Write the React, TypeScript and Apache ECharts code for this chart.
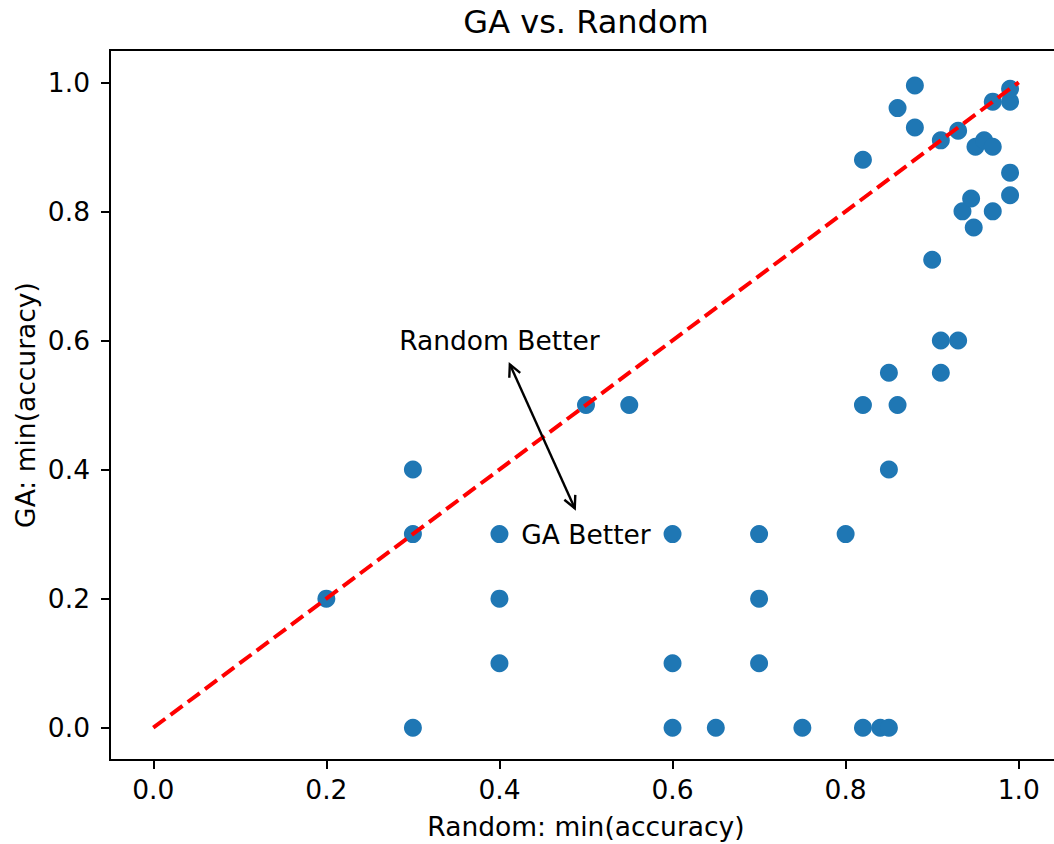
import React, { useEffect, useRef } from "react";
import * as echarts from "echarts";

// Minimum accuracy per run: Random search (x) vs. GA (y)
const randomAcc = [
  0.2, 0.3, 0.3, 0.3, 0.4, 0.4, 0.4, 0.5, 0.55, 0.6, 0.6, 0.6, 0.65, 0.7, 0.7, 0.7,
  0.75, 0.8, 0.82, 0.84, 0.85, 0.85, 0.82, 0.86, 0.85, 0.91, 0.91, 0.93, 0.9, 0.948,
  0.935, 0.97, 0.945, 0.99, 0.99, 0.82, 0.95, 0.96, 0.97, 0.91, 0.93, 0.88, 0.86,
  0.97, 0.99, 0.99, 0.88,
];
const gaAcc = [
  0.2, 0.4, 0.3, 0.0, 0.3, 0.2, 0.1, 0.5, 0.5, 0.3, 0.1, 0.0, 0.0, 0.3, 0.2, 0.1,
  0.0, 0.3, 0.0, 0.0, 0.0, 0.4, 0.5, 0.5, 0.55, 0.55, 0.6, 0.6, 0.725, 0.775,
  0.8, 0.8, 0.82, 0.825, 0.86, 0.88, 0.9, 0.91, 0.9, 0.91, 0.925, 0.93, 0.96,
  0.97, 0.97, 0.99, 0.995,
];

// Parity line y = x
const parityLine = [
  [0, 0],
  [1, 1],
];

const tickValues = [0, 0.2, 0.4, 0.6, 0.8, 1.0];

// Annotation labels and arrows (from the crossing point towards each label)
const noteTexts = ["Random Better", "GA Better"];
const notePos = [
  [0.4, 0.6],
  [0.5, 0.3],
];
const arrowStart = [0.45, 0.45];
const arrowTips = [
  [0.412, 0.563],
  [0.487, 0.34],
];

const FONT = "DejaVu Sans";
const FS = 26.5;

export default function App() {
  const ref = useRef<HTMLDivElement>(null);

  useEffect(() => {
    if (!ref.current) return;
    const chart = echarts.init(ref.current, null, { renderer: "svg" });

    const points = randomAcc.map((x, i) => [x, gaAcc[i]]);
    const arrows = arrowTips.map((t) => [arrowStart[0], arrowStart[1], t[0], t[1]]);
    const notes = notePos.map((p, i) => [p[0], p[1], i]);

    const axisCommon = {
      type: "value" as const,
      min: -0.05,
      max: 1.05,
      splitLine: { show: false },
      axisLine: { show: true, onZero: false, lineStyle: { color: "#000", width: 2 } },
      axisTick: {
        show: true,
        inside: false,
        length: 9,
        lineStyle: { color: "#000", width: 2 },
        customValues: tickValues,
      },
      axisLabel: {
        customValues: tickValues,
        color: "#000",
        fontFamily: FONT,
        fontSize: FS,
        formatter: (v: number) => v.toFixed(1),
      },
    };

    const centered = {
      fontFamily: FONT,
      fill: "#000",
      textAlign: "center",
      textVerticalAlign: "middle",
      align: "center",
      verticalAlign: "middle",
    };

    chart.setOption({
      animation: false,
      backgroundColor: "#fff",
      grid: {
        left: 110,
        top: 50,
        right: 0,
        bottom: 84,
        show: true,
        borderColor: "#000",
        borderWidth: 2,
        containLabel: false,
      },
      xAxis: {
        ...axisCommon,
        axisLabel: { ...axisCommon.axisLabel, margin: 16 },
      },
      yAxis: {
        ...axisCommon,
        axisLabel: { ...axisCommon.axisLabel, margin: 20 },
      },
      graphic: [
        {
          type: "text",
          x: 586,
          y: 22,
          style: { ...centered, text: "GA vs. Random", fontSize: 32 },
        },
        {
          type: "text",
          x: 586,
          y: 826,
          style: { ...centered, text: "Random: min(accuracy)", fontSize: FS },
        },
        {
          type: "text",
          x: 25,
          y: 405,
          rotation: Math.PI / 2,
          style: { ...centered, text: "GA: min(accuracy)", fontSize: FS },
        },
      ],
      series: [
        {
          type: "scatter",
          data: points,
          symbol: "circle",
          symbolSize: 18,
          itemStyle: { color: "#1f77b4", opacity: 1 },
          z: 2,
        },
        {
          type: "line",
          data: parityLine,
          symbol: "none",
          lineStyle: { color: "#ff0000", width: 4, type: [15, 6.5] },
          z: 3,
        },
        {
          type: "custom",
          data: arrows,
          z: 4,
          renderItem: (params: any, api: any) => {
            const p0 = api.coord([api.value(0), api.value(1)]);
            const p1 = api.coord([api.value(2), api.value(3)]);
            const dx = p1[0] - p0[0];
            const dy = p1[1] - p0[1];
            const len = Math.sqrt(dx * dx + dy * dy);
            const ux = dx / len;
            const uy = dy / len;
            const hl = 12;
            const hw = 6;
            const bx = p1[0] - ux * hl;
            const by = p1[1] - uy * hl;
            const w1 = [bx - uy * hw, by + ux * hw];
            const w2 = [bx + uy * hw, by - ux * hw];
            const st = { stroke: "#000", lineWidth: 2.4, fill: "none" };
            return {
              type: "group",
              children: [
                { type: "line", shape: { x1: p0[0], y1: p0[1], x2: p1[0], y2: p1[1] }, style: st },
                { type: "polyline", shape: { points: [w1, p1, w2] }, style: st },
              ],
            };
          },
        },
        {
          type: "custom",
          data: notes,
          z: 5,
          renderItem: (params: any, api: any) => {
            const p = api.coord([api.value(0), api.value(1)]);
            return {
              type: "text",
              x: p[0],
              y: p[1],
              style: { ...centered, text: noteTexts[api.value(2)], fontSize: FS },
            };
          },
        },
      ],
    });

    return () => chart.dispose();
  }, []);

  return (
    <div
      style={{
        position: "fixed",
        left: 0,
        top: 0,
        width: 1054,
        height: 844,
        overflow: "hidden",
        background: "#fff",
      }}
    >
      <div ref={ref} style={{ width: 1062, height: 844 }} />
    </div>
  );
}
